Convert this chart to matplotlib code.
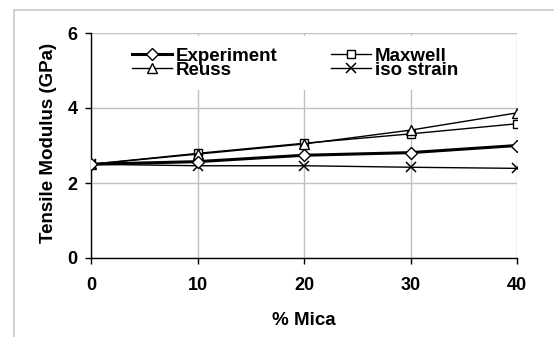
import matplotlib
matplotlib.use('Agg')
from matplotlib import pyplot as plt
from matplotlib.patches import Rectangle

plt.rcParams['font.family'] = ['Liberation Sans', 'DejaVu Sans']
plt.rcParams['font.weight'] = 'bold'

# mica content (%) and tensile modulus (GPa)
mica = [0, 10, 20, 30, 40]
experiment = [2.50, 2.57, 2.74, 2.81, 3.00]
maxwell = [2.50, 2.79, 3.06, 3.31, 3.58]
reuss = [2.50, 2.77, 3.04, 3.41, 3.87]
iso_strain = [2.50, 2.46, 2.46, 2.42, 2.39]

fs = 13.5

fig = plt.figure(figsize=(5.54, 3.37), dpi=100)
ax = fig.add_axes([91/554, 1 - 258/337, 426/554, 225/337])

# light chart-area frame
fig.patches.append(Rectangle((14/554, -0.1), 1.1, 1.1 - 10/337, transform=fig.transFigure,
                             fill=False, edgecolor='#c8c8c8', linewidth=1.2, zorder=0))

l_exp, = ax.plot(mica, experiment, color='black', lw=2.2, marker='D', ms=6.3,
                 mfc='white', mec='black', mew=1, label='Experiment', zorder=5)
l_max, = ax.plot(mica, maxwell, color='black', lw=1, marker='s', ms=6,
                 mfc='white', mec='black', mew=1, label='Maxwell', zorder=4)
l_reu, = ax.plot(mica, reuss, color='black', lw=1, marker='^', ms=7,
                 mfc='white', mec='black', mew=1, label='Reuss', zorder=4)
l_iso, = ax.plot(mica, iso_strain, color='black', lw=1, marker='x', ms=7.5,
                 mec='black', mew=1.1, label='iso strain', zorder=4)

ax.set_xlim(0, 40)
ax.set_ylim(0, 6)
ax.set_xticks([0, 10, 20, 30, 40])
ax.set_yticks([0, 2, 4, 6])
ax.grid(True, color='#c0c0c0', lw=1)
ax.set_axisbelow(True)
for s in ['top', 'right']:
    ax.spines[s].set_visible(False)
for s in ['left', 'bottom']:
    ax.spines[s].set_linewidth(1)
ax.tick_params(axis='both', direction='out', length=4, width=1, labelsize=13)
ax.tick_params(axis='x', pad=9.5)
ax.tick_params(axis='y', pad=5.8)

ax.set_xlabel('% Mica', fontsize=fs, fontweight='bold')
ax.set_ylabel('Tensile Modulus (GPa)', fontsize=fs, fontweight='bold')
ax.xaxis.set_label_coords(0.5, -0.24)
ax.yaxis.set_label_coords(-0.08, 0.51)

leg = ax.legend([l_exp, l_reu, l_max, l_iso], ['Experiment', 'Reuss', 'Maxwell', 'iso strain'],
                ncol=2, loc='upper left', bbox_to_anchor=(0.069, 0.986), frameon=True,
                fancybox=False, edgecolor='none', facecolor='white', framealpha=1,
                handlelength=2.13, handletextpad=0.2, columnspacing=2.9,
                labelspacing=-0.16, borderpad=0.6, borderaxespad=0,
                prop={'weight': 'bold', 'size': fs})

fig.savefig('out.png', dpi=100)
